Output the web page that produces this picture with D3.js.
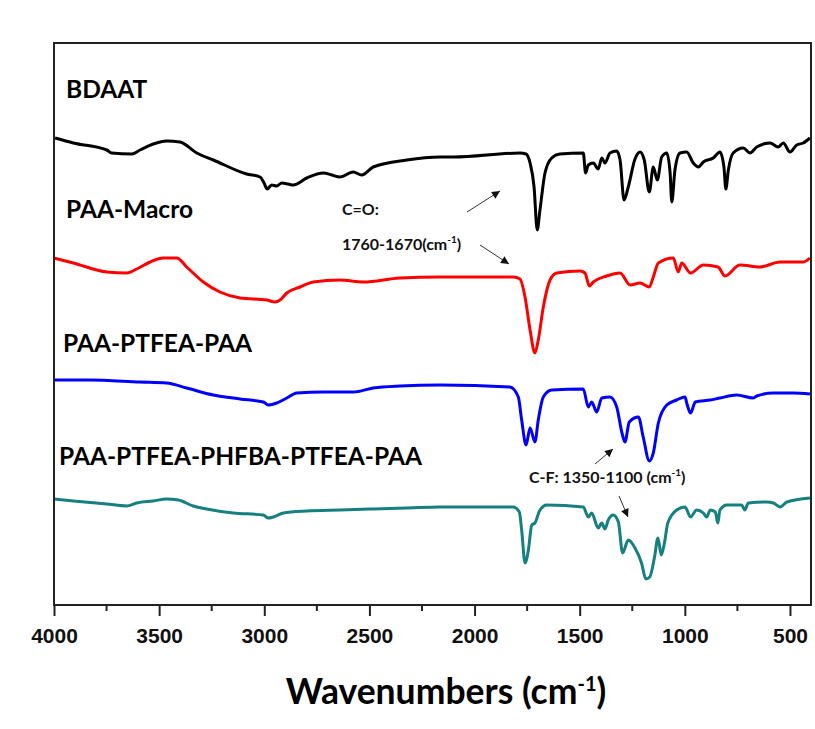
<!DOCTYPE html>
<html>
<head>
<meta charset="utf-8">
<script src="https://cdn.jsdelivr.net/npm/d3@7"></script>
<style>
  html, body { margin: 0; padding: 0; background: #fff; }
  svg { display: block; }
</style>
</head>
<body>
<div id="chart"></div>
<script>
// FTIR spectra, stacked (offset transmittance, a.u.)
var seriesNames = ["BDAAT", "PAA-Macro", "PAA-PTFEA-PAA", "PAA-PTFEA-PHFBA-PTFEA-PAA"];
var seriesColors = ["#000000", "#ff0000", "#0000ff", "#168080"];

var xTicks = [4000, 3500, 3000, 2500, 2000, 1500, 1000, 500];
var xMinorTicks = [3750, 3250, 2750, 2250, 1750, 1250, 750];

// [wavenumber, offset transmittance]
var bdaat = [
  [3995,467],[3908,462],[3749,455],[3726,452],[3630,451],[3591,455],[3528,461],[3464,464],
  [3401,463],[3321,452],[3242,445],[3084,431],[3020,428],[3001,422],[2986,416],[2965,420],
  [2941,419],[2917,422],[2886,421],[2862,420],[2798,427],[2719,432],[2679,430],[2640,428],
  [2577,433],[2537,430],[2482,438],[2323,445],[2164,448],[2101,448],[1784,452],[1755,451],
  [1736,442],[1717,418],[1702,375],[1689,395],[1665,432],[1633,447],[1594,451],[1483,452],
  [1472,432],[1459,440],[1435,442],[1412,436],[1395,447],[1380,442],[1356,452],[1324,454],
  [1308,445],[1289,405],[1269,418],[1237,446],[1213,453],[1193,445],[1169,413],[1150,438],
  [1131,425],[1110,448],[1086,452],[1070,432],[1062,403],[1047,435],[1023,452],[991,453],
  [960,442],[936,438],[912,443],[865,447],[833,453],[814,438],[805,416],[793,435],
  [770,452],[722,457],[690,452],[658,458],[595,462],[556,458],[532,462],[500,453],
  [468,460],[437,462],[405,467]
];

var paaMacro = [
  [4000,347],[3908,342],[3749,333],[3654,332],[3607,336],[3543,343],[3480,347],[3416,347],
  [3369,338],[3290,323],[3211,313],[3115,307],[2988,305],[2949,303],[2925,305],[2893,312],
  [2830,318],[2767,323],[2640,325],[2529,323],[2355,327],[2164,328],[1816,328],[1784,326],
  [1760,308],[1736,275],[1713,252],[1697,265],[1673,298],[1641,325],[1609,332],[1498,334],
  [1475,332],[1454,319],[1435,323],[1372,329],[1308,332],[1260,320],[1213,322],[1169,318],
  [1150,328],[1126,342],[1055,347],[1031,333],[1015,342],[973,332],[912,340],[842,338],
  [809,329],[738,340],[643,338],[547,343],[437,343],[405,347]
];

var paaPtfeaPaa = [
  [4000,225],[3829,225],[3591,223],[3464,222],[3369,217],[3242,210],[3115,206],[3005,203],
  [2981,200],[2941,202],[2893,207],[2846,212],[2719,213],[2577,213],[2482,217],[2355,219],
  [2164,220],[1832,218],[1792,208],[1776,185],[1755,160],[1736,177],[1713,163],[1697,185],
  [1673,208],[1633,215],[1483,216],[1459,198],[1443,203],[1419,193],[1395,207],[1356,208],
  [1324,198],[1300,173],[1285,163],[1264,183],[1221,188],[1198,168],[1169,144],[1150,152],
  [1126,182],[1086,200],[1039,205],[999,208],[991,202],[973,192],[950,203],[879,205],
  [833,207],[754,210],[674,207],[658,209],[579,212],[484,212],[405,211]
];

var paaPtfeaPhfba = [
  [4000,106],[3908,104],[3749,101],[3654,99],[3607,102],[3528,104],[3464,106],[3409,105],
  [3338,99],[3274,96],[3147,92],[3005,90],[2981,87],[2957,88],[2910,92],[2798,94],
  [2640,95],[2482,96],[2323,97],[2164,98],[1816,98],[1787,93],[1776,75],[1760,42],
  [1744,55],[1728,80],[1713,82],[1689,95],[1657,100],[1483,98],[1459,88],[1443,92],
  [1412,77],[1395,82],[1380,76],[1364,85],[1340,90],[1316,83],[1296,52],[1269,65],
  [1237,57],[1206,42],[1185,26],[1167,28],[1144,48],[1128,67],[1112,50],[1097,62],
  [1081,82],[1039,95],[999,98],[973,88],[944,95],[912,92],[896,88],[879,95],
  [855,93],[843,82],[833,95],[801,100],[730,100],[715,95],[698,102],[611,103],
  [579,102],[547,98],[515,103],[405,107]
];

var allSeries = [bdaat, paaMacro, paaPtfeaPaa, paaPtfeaPhfba];

var W = 815, H = 729;
var margin = {left: 54, right: 4, top: 43, bottom: 124};
var plotW = W - margin.left - margin.right;
var plotH = H - margin.top - margin.bottom;

var svg = d3.select("#chart").append("svg")
  .attr("width", W)
  .attr("height", H);

var x = d3.scaleLinear().domain([4000, 400]).range([0, plotW]);
var y = d3.scaleLinear().domain([0, 562]).range([plotH, 0]);

var g = svg.append("g").attr("transform", "translate(" + margin.left + "," + margin.top + ")");

var line = d3.line()
  .x(function(d) { return x(d[0]); })
  .y(function(d) { return y(d[1]); })
  .curve(d3.curveMonotoneX);

g.selectAll("path.spec")
  .data(allSeries)
  .enter()
  .append("path")
  .attr("class", "spec")
  .attr("d", line)
  .attr("fill", "none")
  .attr("stroke", function(d, i) { return seriesColors[i]; })
  .attr("stroke-width", 3)
  .attr("stroke-linejoin", "round");

// frame
g.append("rect")
  .attr("x", 0).attr("y", 0)
  .attr("width", plotW).attr("height", plotH)
  .attr("fill", "none")
  .attr("stroke", "#222")
  .attr("stroke-width", 2);

// bottom axis
var xAxis = d3.axisBottom(x)
  .tickValues(xTicks)
  .tickSize(11)
  .tickPadding(12)
  .tickFormat(d3.format("d"));

var ax = g.append("g")
  .attr("transform", "translate(0," + plotH + ")")
  .call(xAxis);
ax.select(".domain").remove();
ax.selectAll(".tick line").attr("stroke", "#222").attr("stroke-width", 2);
ax.selectAll(".tick text")
  .attr("fill", "#111")
  .style("font-family", "'Liberation Sans', Arial, sans-serif")
  .style("font-weight", "bold")
  .style("font-size", "21px");

g.append("g")
  .attr("transform", "translate(0," + plotH + ")")
  .selectAll("line")
  .data(xMinorTicks)
  .enter()
  .append("line")
  .attr("x1", function(d) { return x(d); })
  .attr("x2", function(d) { return x(d); })
  .attr("y1", 0).attr("y2", 6)
  .attr("stroke", "#222").attr("stroke-width", 2);

// axis title
var title = svg.append("text")
  .attr("x", 446).attr("y", 704)
  .attr("text-anchor", "middle")
  .style("font-family", "Lato, 'Open Sans', sans-serif")
  .style("font-weight", "bold")
  .style("font-size", "35.5px")
  .attr("fill", "#000");
title.append("tspan").text("Wavenumbers (cm");
title.append("tspan").attr("dy", -13).style("font-size", "20px").text("-1");
title.append("tspan").attr("dy", 13).text(")");

// series labels
var labelPos = [[66, 98], [66, 218], [63, 352], [59, 465]];
svg.selectAll("text.lbl")
  .data(seriesNames)
  .enter()
  .append("text")
  .attr("class", "lbl")
  .attr("x", function(d, i) { return labelPos[i][0]; })
  .attr("y", function(d, i) { return labelPos[i][1]; })
  .style("font-family", "Lato, 'Open Sans', sans-serif")
  .style("font-weight", "bold")
  .style("font-size", "24.5px")
  .attr("fill", "#000")
  .text(function(d) { return d; });

// annotations
var annFont = "Lato, 'Open Sans', sans-serif";
function annText(xp, yp, main, sup, tail) {
  var t = svg.append("text")
    .attr("x", xp).attr("y", yp)
    .style("font-family", annFont)
    .style("font-weight", "bold")
    .style("font-size", "16px")
    .attr("fill", "#111");
  t.append("tspan").text(main);
  if (sup) {
    t.append("tspan").attr("dy", -7).style("font-size", "10px").text(sup);
    t.append("tspan").attr("dy", 7).text(tail);
  }
}
annText(342, 215, "C=O:");
annText(342, 250, "1760-1670(cm", "-1", ")");
annText(529, 483, "C-F: 1350-1100 (cm", "-1", ")");

svg.append("defs").append("marker")
  .attr("id", "head")
  .attr("viewBox", "0 0 10 10")
  .attr("refX", 10).attr("refY", 5)
  .attr("markerWidth", 12).attr("markerHeight", 8)
  .attr("markerUnits", "userSpaceOnUse")
  .attr("orient", "auto")
  .append("path")
  .attr("d", "M0,0 L10,5 L0,10 Z")
  .attr("fill", "#111");

var arrows = [
  [467, 212, 500, 191],
  [480, 245, 509, 264],
  [595, 464, 613, 449],
  [619, 496, 628, 517]
];
svg.selectAll("line.arrow")
  .data(arrows)
  .enter()
  .append("line")
  .attr("class", "arrow")
  .attr("x1", function(d) { return d[0]; })
  .attr("y1", function(d) { return d[1]; })
  .attr("x2", function(d) { return d[2]; })
  .attr("y2", function(d) { return d[3]; })
  .attr("stroke", "#333")
  .attr("stroke-width", 1)
  .attr("marker-end", "url(#head)");
</script>
</body>
</html>
